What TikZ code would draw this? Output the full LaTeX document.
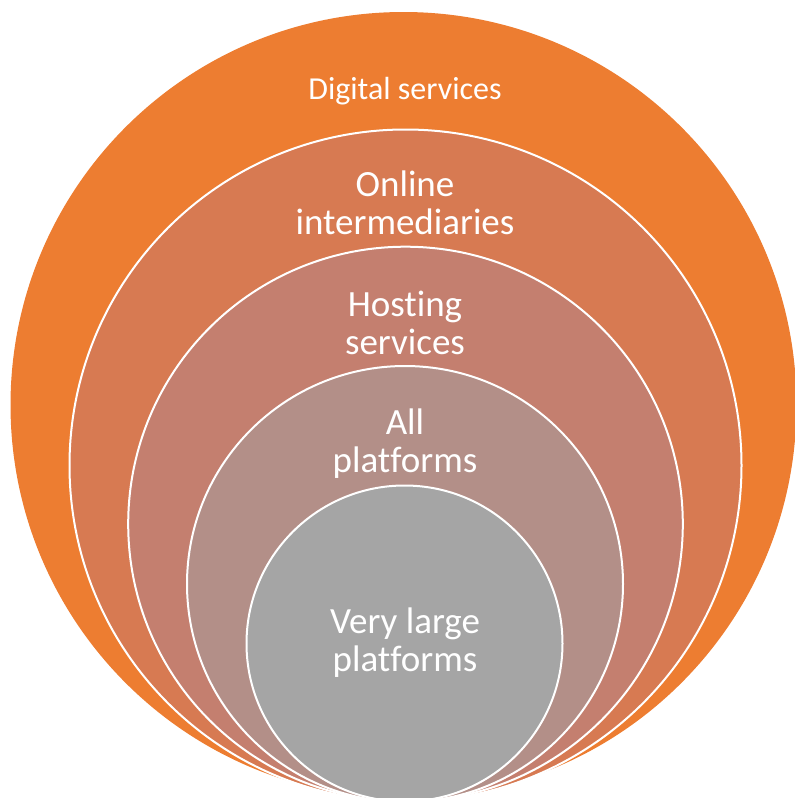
\documentclass[tikz,border=0pt]{standalone}
\usepackage{fontspec}
\setmainfont{Carlito}[Ligatures={NoCommon,NoContextual}]
\definecolor{cA}{HTML}{ED7D31}
\definecolor{cB}{HTML}{D77A52}
\definecolor{cC}{HTML}{C47F6F}
\definecolor{cD}{HTML}{B38F88}
\definecolor{cE}{HTML}{A5A5A5}
\begin{document}
\begin{tikzpicture}[x=1pt,y=-1pt,
  ring/.style={circle, draw=white, line width=2pt, inner sep=0pt},
  lbl/.style={text=white, font=\fontsize{37}{38}\selectfont, align=center, inner sep=0pt, anchor=base},
  lblsmall/.style={text=white, font=\fontsize{32}{36}\selectfont, align=center, inner sep=0pt, anchor=base}]
\useasboundingbox (0,0) rectangle (795,798);
\node[ring, draw=none, fill=cA, minimum size=786pt] (c1) at (403.5,405) {};
\node[ring, fill=cB, minimum size=672pt] (c2) at (405.5,465.5) {};
\node[ring, fill=cC, minimum size=554.6pt] (c3) at (405.5,524) {};
\node[ring, fill=cD, minimum size=436pt] (c4) at (405,584) {};
\node[ring, fill=cE, minimum size=316pt] (c5) at (404.5,643.5) {};
\node[lblsmall] (t1) at (405,99) {Digital services};
\node[lbl] (t2) at (405,234) {Online\\intermediaries};
\node[lbl] (t3) at (405,354) {Hosting\\services};
\node[lbl] (t4) at (405,472) {All\\platforms};
\node[lbl] (t5) at (405,671) {Very large\\platforms};
\end{tikzpicture}
\end{document}
